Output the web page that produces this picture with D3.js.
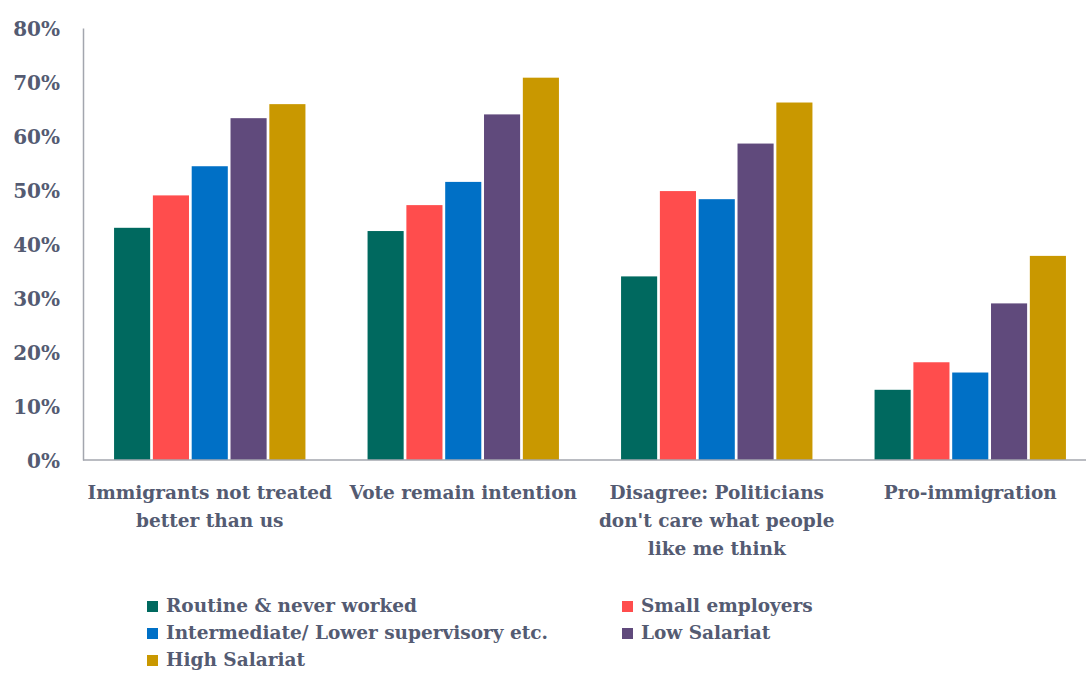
<!DOCTYPE html>
<html>
<head>
<meta charset="utf-8">
<script src="https://cdn.jsdelivr.net/npm/d3@7"></script>
<style>
    body { margin: 0; background: #fff; }
    svg text { font-family: "DejaVu Serif", serif; font-weight: bold; fill: #545b72; }
</style>
</head>
<body>
<div id="chart"></div>
<script>
// chart data
const categories = [
    ['Immigrants not treated', 'better than us'],
    ['Vote remain intention'],
    ['Disagree: Politicians', "don't care what people", 'like me think'],
    ['Pro-immigration']
];
const seriesNames = [
    'Routine & never worked',
    'Small employers',
    'Intermediate/ Lower supervisory etc.',
    'Low Salariat',
    'High Salariat'
];
const routine = [0.43, 0.424, 0.34, 0.13];
const smallEmployers = [0.49, 0.472, 0.498, 0.181];
const intermediate = [0.544, 0.515, 0.483, 0.162];
const lowSalariat = [0.633, 0.64, 0.586, 0.29];
const highSalariat = [0.659, 0.708, 0.662, 0.378];
const yTicks = [0, 0.1, 0.2, 0.3, 0.4, 0.5, 0.6, 0.7, 0.8];

const colors = ['#00695f', '#ff4d4d', '#0070c6', '#604a7c', '#c99800'];
const series = [routine, smallEmployers, intermediate, lowSalariat, highSalariat];

const width = 1086, height = 677;
const dim = { left: 83, top: 28, bottom: 460, right: 1097 };

const svg = d3.select('#chart').append('svg')
    .attr('width', width)
    .attr('height', height);

const y = d3.scaleLinear().domain([0, 0.8]).range([dim.bottom, dim.top]);

const x0 = d3.scaleBand()
    .domain(d3.range(categories.length))
    .range([dim.left, dim.right])
    .padding(0);

const x1 = d3.scaleBand()
    .domain(d3.range(series.length))
    .range([0, x0.bandwidth()])
    .paddingInner(0.07)
    .paddingOuter(0.8);

// bars, one group per category
const groups = svg.append('g').selectAll('g')
    .data(categories)
    .join('g')
    .attr('transform', (d, i) => `translate(${x0(i)},0)`);

groups.selectAll('rect')
    .data((d, i) => series.map((s, k) => ({ k, v: s[i] })))
    .join('rect')
    .attr('x', d => x1(d.k))
    .attr('y', d => y(d.v))
    .attr('width', x1.bandwidth())
    .attr('height', d => y(0) - y(d.v))
    .attr('fill', d => colors[d.k]);

// y axis, labels only + the vertical line
const yAxis = svg.append('g')
    .attr('transform', `translate(${dim.left},0)`)
    .call(d3.axisLeft(y).tickValues(yTicks).tickFormat(d3.format('.0%')).tickSize(0).tickPadding(23));
yAxis.select('.domain').attr('stroke', '#a3a6ae').attr('stroke-width', 1.5);
yAxis.selectAll('text').style('font-size', '20px').attr('dy', '0.35em');

// baseline
svg.append('line')
    .attr('x1', dim.left).attr('x2', width)
    .attr('y1', y(0)).attr('y2', y(0))
    .attr('stroke', '#a3a6ae').attr('stroke-width', 1.5);

// category labels (wrapped lines)
svg.append('g').selectAll('text')
    .data(categories)
    .join('text')
    .attr('text-anchor', 'middle')
    .attr('x', (d, i) => x0(i) + x0.bandwidth() / 2)
    .attr('y', 499)
    .style('font-size', '18.5px')
    .selectAll('tspan')
    .data(d => d)
    .join('tspan')
    .attr('x', function () { return this.parentNode.getAttribute('x'); })
    .attr('dy', (d, j) => j === 0 ? 0 : 28)
    .text(d => d);

// legend, two columns
const legend = svg.append('g').selectAll('g')
    .data(seriesNames)
    .join('g')
    .attr('transform', (d, i) => `translate(${i % 2 ? 622 : 147},${612 + Math.floor(i / 2) * 27})`);

legend.append('rect')
    .attr('y', -11)
    .attr('width', 11)
    .attr('height', 11)
    .attr('fill', (d, i) => colors[i]);

legend.append('text')
    .attr('x', 19)
    .style('font-size', '18.5px')
    .text(d => d);
</script>
</body>
</html>
